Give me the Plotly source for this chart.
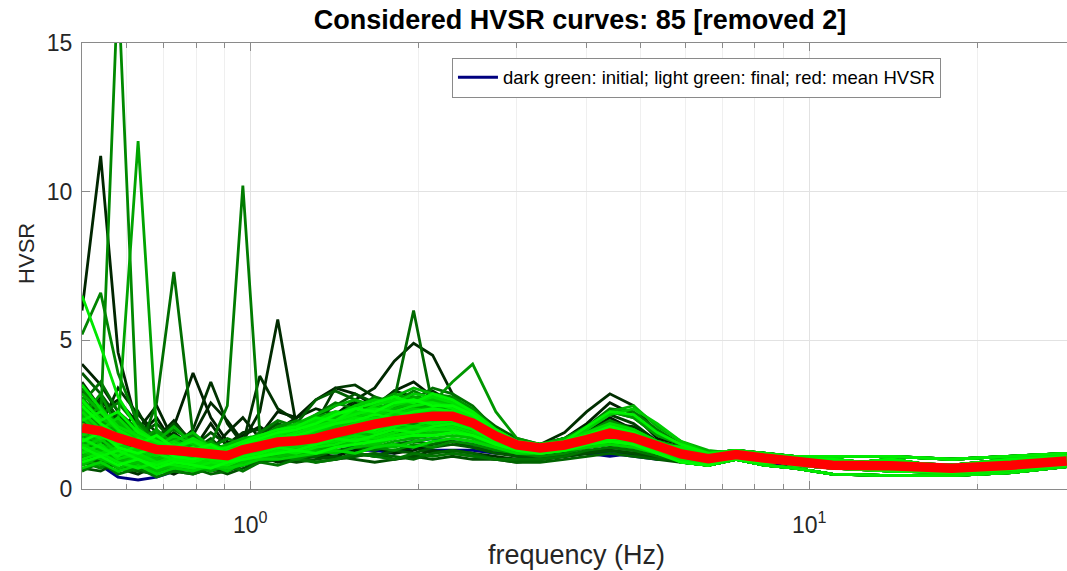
import math
import plotly.graph_objects as go

# Frequency samples (Hz), shared by every HVSR curve
freq_hz = [0.50, 0.54, 0.58, 0.63, 0.68, 0.73, 0.79, 0.85, 0.91, 0.97,
           1.04, 1.12, 1.21, 1.31, 1.42, 1.54, 1.67, 1.81, 1.96, 2.12,
           2.3, 2.5, 2.75, 3.0, 3.3, 3.65, 4.0, 4.4, 4.85, 5.35,
           5.9, 6.6, 7.4, 8.3, 9.4, 11.0, 14.0, 18.0, 23.0, 28.9]

# Mean HVSR curve
mean_hvsr = [2.05, 1.95, 1.72, 1.5, 1.33, 1.3, 1.25, 1.2, 1.12, 1.32,
             1.48, 1.58, 1.62, 1.7, 1.88, 2.05, 2.18, 2.3, 2.38, 2.45,
             2.45, 2.22, 1.78, 1.48, 1.38, 1.48, 1.66, 1.88, 1.72, 1.42,
             1.18, 1.02, 1.16, 1.04, 0.9, 0.8, 0.78, 0.7, 0.8, 0.94]

# The two windows that were removed
removed_curves = [
    [1.0,0.8,0.4,0.3,0.4,0.6,0.8,0.7,0.9,1.0, 1.1,1.2,1.1,1.3,1.2,1.3,1.3,1.2,1.4,1.3, 1.3,1.3,1.2,1.2,1.1,1.1,1.2,1.2,1.1,1.0, 1.0,0.9,1.0,0.9,0.8,0.8,0.7,0.7,0.8,0.9],
    [1.3,2.9,1.5,1.0,0.9,1.1,0.9,1.0,1.1,1.2, 1.2,1.4,1.3,1.4,1.5,1.4,1.3,1.5,1.6,1.7, 1.6,1.5,1.3,1.2,1.2,1.2,1.2,1.1,1.2,1.1, 1.0,0.9,1.0,1.0,0.9,0.8,0.8,0.7,0.8,0.9],
]

# The 85 considered windows, from initial (first) to final (last)
hvsr_curves = [
    [2.6,3.1,2.2,1.8,2.4,1.5,1.1,1.6,1.0,1.4, 1.9,2.2,1.6,1.5,1.9,2.4,2.2,2.6,3.0,2.7, 2.3,2.0,1.6,1.3,1.3,1.5,1.9,2.4,2.0,1.5, 1.4,1.2,1.3,1.2,1.1,1.1,1.1,1.0,1.1,1.2],
    [4.2,3.5,2.6,1.9,1.5,2.1,3.9,2.4,1.6,1.2, 1.8,2.6,2.4,3.0,3.4,3.2,2.8,3.3,3.6,3.1, 2.6,2.3,1.9,1.6,1.5,1.7,2.2,2.9,2.5,1.7, 1.5,1.2,1.2,1.1,0.9,0.9,0.9,0.8,0.9,1.1],
    [1.2,0.8,0.6,0.9,0.7,0.5,0.8,0.6,0.7,0.9, 1.0,1.1,1.0,1.2,1.1,1.3,1.4,1.2,1.3,1.5, 1.6,1.4,1.3,1.1,1.0,1.1,1.3,1.3,1.2,1.1, 0.9,0.8,1.1,1.0,0.8,0.7,0.6,0.55,0.65,0.8],
    [6.0,11.2,4.6,2.0,2.8,1.6,1.3,2.2,1.4,1.8, 2.1,1.7,1.9,2.3,2.5,2.2,2.7,2.9,2.6,2.4, 2.2,2.0,1.7,1.5,1.4,1.6,1.8,2.0,1.8,1.4, 1.3,1.1,1.1,1.0,1.0,1.0,0.8,0.8,1.0,1.1],
    [3.3,2.6,3.0,2.2,1.7,2.3,1.5,1.3,1.9,2.4, 1.7,2.0,2.4,2.7,2.5,3.0,3.4,4.3,4.9,4.5, 3.2,2.5,1.9,1.6,1.5,1.7,2.1,2.3,2.0,1.6, 1.4,1.2,1.3,1.2,1.1,1.1,1.1,1.0,1.1,1.2],
    [2.2,1.9,1.4,1.7,1.2,1.0,1.8,2.9,2.3,1.6, 2.6,5.7,2.1,1.8,2.2,2.6,2.4,2.2,2.8,2.5, 2.4,2.0,1.7,1.5,1.4,1.5,1.8,2.1,1.9,1.5, 1.2,1.0,1.2,1.0,0.9,0.8,0.8,0.7,0.8,0.9],
    [1.6,1.3,1.1,1.5,1.0,0.9,1.2,1.0,1.4,1.2, 1.3,1.6,1.5,1.4,1.7,2.0,1.9,2.1,2.3,2.2, 2.3,2.2,1.9,1.6,1.5,1.9,2.6,3.2,2.8,1.9, 1.5,1.2,1.2,1.1,0.9,0.9,0.9,0.8,0.9,1.1],
    [0.9,1.1,0.7,0.5,0.8,0.6,0.5,0.7,0.6,0.8, 1.1,0.9,1.0,1.1,1.0,1.2,1.1,1.3,1.4,1.2, 1.3,1.2,1.1,1.0,1.0,1.1,1.2,1.4,1.3,1.1, 1.0,0.8,1.0,0.8,0.7,0.5,0.45,0.45,0.55,0.75],
    [2.8,2.1,3.4,2.5,1.9,1.4,2.0,3.6,2.2,1.5, 3.8,2.7,2.3,2.0,2.4,2.9,2.6,2.5,2.8,3.3, 2.9,2.4,1.9,1.6,1.4,1.6,1.9,2.2,2.1,1.6, 1.3,1.1,1.1,1.0,1.0,1.0,0.8,0.8,1.0,1.1],
    [1.7,2.4,1.6,1.2,1.4,1.1,0.9,1.3,1.0,1.1, 1.4,1.3,1.6,1.9,2.1,1.8,2.2,2.0,2.3,2.6, 2.5,2.1,1.7,1.4,1.3,1.4,1.6,1.8,1.7,1.4, 1.1,0.9,1.3,1.1,0.8,0.8,1.0,0.7,0.8,0.9],
    [3.6,2.7,1.9,2.6,1.5,1.9,1.4,1.1,1.5,1.9, 2.0,1.6,1.8,2.2,3.4,3.5,3.1,2.7,2.5,2.3, 2.6,2.3,1.8,1.5,1.4,1.5,1.7,1.9,1.7,1.4, 1.2,1.0,1.0,0.9,0.9,0.7,0.7,0.6,0.8,1.0],
    [1.1,0.8,1.0,0.7,0.9,1.1,0.7,0.9,0.8,1.0, 1.2,1.1,1.3,1.2,1.0,1.1,1.2,1.0,1.1,1.3, 1.2,1.1,1.0,1.0,1.0,1.1,1.2,1.3,1.2,1.1, 0.9,0.8,1.1,1.0,0.8,0.7,0.6,0.55,0.65,0.8],
    [2.4,3.0,2.3,1.6,1.9,1.3,1.6,1.2,1.1,1.6, 1.7,2.0,1.8,1.6,2.0,2.3,2.7,3.3,3.1,2.8, 2.7,2.5,2.0,1.6,1.4,1.6,2.0,2.5,2.2,1.6, 1.4,1.2,1.3,1.2,1.1,1.1,1.1,1.0,1.1,1.2],
    [1.4,1.9,1.3,1.0,1.2,0.8,1.0,0.9,0.7,1.0, 1.1,1.3,1.2,1.5,1.4,1.7,1.6,1.9,2.0,1.8, 2.0,1.8,1.5,1.3,1.2,1.3,1.5,1.6,1.5,1.3, 1.0,0.8,1.0,0.8,0.7,0.5,0.45,0.45,0.55,0.75],
    [2.0,1.5,1.8,1.3,1.1,1.5,1.2,1.6,1.3,1.2, 1.5,1.8,1.7,2.0,2.3,2.1,2.5,2.4,2.2,2.6, 2.6,2.4,1.9,1.5,1.4,1.5,1.7,2.0,1.8,1.5, 1.1,0.9,1.3,1.1,0.8,0.8,1.0,0.7,0.8,0.9],
    [3.0,2.2,1.7,2.0,1.4,1.2,1.5,1.1,1.3,1.5, 1.4,1.5,1.9,1.7,1.8,2.0,2.3,2.1,2.4,2.3, 2.4,2.1,1.7,1.4,1.4,1.5,1.7,1.9,1.7,1.4, 1.2,1.0,1.2,1.0,0.9,0.8,0.8,0.7,0.8,0.9],
    [1.3,1.0,1.4,1.1,0.8,1.0,0.9,0.7,0.9,1.1, 1.2,1.4,1.3,1.2,1.5,1.6,1.5,1.7,1.9,2.0, 2.1,1.9,1.6,1.3,1.2,1.3,1.4,1.6,1.5,1.3, 1.0,0.8,1.0,0.8,0.7,0.5,0.45,0.45,0.55,0.75],
    [2.7,2.0,2.5,1.8,1.3,1.7,1.4,1.9,1.5,1.3, 1.6,2.1,1.9,1.8,2.2,2.5,2.8,2.6,2.9,3.1, 2.8,2.3,1.8,1.5,1.4,1.6,1.9,2.1,1.9,1.5, 1.3,1.1,1.1,1.0,1.0,1.0,0.8,0.8,1.0,1.1],
    [0.7,0.6,0.9,0.6,0.5,0.8,0.6,0.7,0.5,0.7, 0.9,1.0,0.9,1.0,1.1,1.0,0.9,1.0,1.1,1.0, 1.1,1.0,1.0,0.9,1.0,1.1,1.2,1.3,1.2,1.0, 0.9,0.8,1.1,1.0,0.8,0.7,0.6,0.55,0.65,0.8],
    [2.2,2.9,1.8,1.4,1.7,2.2,1.6,1.2,1.0,1.4, 1.6,1.5,1.7,2.0,1.9,2.2,2.1,2.4,2.6,2.5, 2.3,2.1,1.7,1.5,1.4,1.5,1.7,1.9,1.8,1.4, 1.2,1.0,1.0,0.9,0.9,0.7,0.7,0.6,0.8,1.0],
    [1.8,1.4,1.2,1.6,1.3,1.0,1.3,1.5,1.1,1.3, 1.4,1.7,1.6,1.5,1.8,2.0,2.2,2.5,2.7,2.9, 3.0,2.6,2.0,1.6,1.4,1.5,1.7,1.8,1.7,1.4, 1.1,0.9,1.3,1.1,0.8,0.8,1.0,0.7,0.8,0.9],
    [3.9,3.2,2.4,1.8,2.2,1.6,1.3,1.7,1.2,1.5, 1.8,2.2,2.0,2.4,2.8,3.2,2.9,2.6,2.8,2.7, 2.5,2.2,1.8,1.5,1.4,1.6,1.8,2.0,1.8,1.5, 1.4,1.2,1.3,1.2,1.1,1.1,1.1,1.0,1.1,1.2],
    [1.0,1.3,0.9,0.8,1.0,0.7,0.6,0.8,0.9,1.0, 1.1,1.2,1.0,1.1,1.3,1.2,1.1,1.3,1.2,1.4, 1.5,1.4,1.2,1.1,1.1,1.2,1.4,1.5,1.4,1.2, 1.0,0.8,1.0,0.8,0.7,0.5,0.45,0.45,0.55,0.75],
    [2.5,1.8,2.1,1.5,1.2,1.4,1.0,1.2,1.4,1.7, 1.5,1.3,1.6,1.8,2.1,2.4,2.6,2.3,2.5,2.8, 2.7,2.4,1.9,1.5,1.4,1.5,1.6,1.9,1.7,1.4, 1.2,1.0,1.2,1.0,0.9,0.8,0.8,0.7,0.8,0.9],
    [1.5,2.2,1.6,1.1,0.9,1.2,0.8,1.0,1.2,0.9, 1.2,1.4,1.3,1.6,1.5,1.8,2.0,1.9,2.1,2.2, 2.2,2.0,1.6,1.4,1.3,1.4,1.6,1.7,1.6,1.3, 1.2,1.0,1.0,0.9,0.9,0.7,0.7,0.6,0.8,1.0],
    [3.3,2.4,2.0,1.5,1.8,1.4,1.9,1.3,1.1,1.4, 1.7,1.9,2.2,3.0,3.3,3.0,2.6,2.4,2.7,2.9, 3.0,2.7,2.1,1.7,1.5,1.7,2.1,2.6,2.4,1.8, 1.5,1.2,1.2,1.1,0.9,0.9,0.9,0.8,0.9,1.1],
    [0.8,1.0,0.7,0.6,0.9,0.6,0.7,0.5,0.6,0.8, 0.9,1.0,1.1,0.9,1.0,1.1,1.2,1.1,1.0,1.2, 1.3,1.2,1.0,0.9,0.9,1.0,1.1,1.2,1.1,1.0, 1.0,0.8,1.0,0.8,0.7,0.5,0.45,0.45,0.55,0.75],
    [2.1,1.6,1.3,1.9,1.5,1.1,1.4,1.2,1.0,1.3, 1.5,1.6,1.8,1.7,2.0,2.2,2.4,2.7,2.6,2.4, 2.4,2.2,1.8,1.5,1.4,1.5,1.7,1.9,1.7,1.4, 1.1,0.9,1.3,1.1,0.8,0.8,1.0,0.7,0.8,0.9],
    [1.9,2.5,1.7,1.3,1.6,1.2,1.0,1.4,1.1,1.5, 1.7,1.9,2.1,2.3,2.2,2.6,2.5,3.0,6.0,2.8, 2.5,2.2,1.8,1.5,1.4,1.5,1.8,2.0,1.8,1.5, 1.3,1.1,1.1,1.0,1.0,1.0,0.8,0.8,1.0,1.1],
    [1.2,0.9,1.1,0.8,0.7,0.9,0.7,0.8,0.6,0.9, 1.0,1.1,1.2,1.1,1.3,1.4,1.3,1.5,1.6,1.5, 1.7,1.6,1.4,1.2,1.2,1.3,1.4,1.5,1.4,1.2, 0.9,0.8,1.1,1.0,0.8,0.7,0.6,0.55,0.65,0.8],
    [2.3,1.7,1.5,1.2,2.9,7.3,1.8,1.3,1.0,1.2, 1.4,1.6,1.5,1.7,1.9,2.1,2.0,2.3,2.5,2.4, 2.3,2.1,1.7,1.4,1.3,1.4,1.6,1.8,1.6,1.4, 1.2,1.0,1.0,0.9,0.9,0.7,0.7,0.6,0.8,1.0],
    [2.9,3.6,2.6,2.0,1.5,1.8,1.3,1.6,1.2,1.4, 1.6,1.9,1.7,2.0,2.4,2.6,2.3,2.7,3.0,3.4, 3.2,2.8,2.0,1.6,1.5,1.6,1.8,2.0,1.9,1.5, 1.4,1.2,1.3,1.2,1.1,1.1,1.1,1.0,1.1,1.2],
    [1.4,1.1,1.6,1.2,1.0,0.8,1.1,0.9,1.2,1.0, 1.3,1.2,1.4,1.6,1.5,1.7,1.9,2.1,2.0,2.2, 2.3,2.0,1.6,1.4,1.3,1.4,1.5,1.7,1.6,1.3, 1.1,0.9,1.3,1.1,0.8,0.8,1.0,0.7,0.8,0.9],
    [0.6,0.9,0.5,0.7,0.4,0.6,0.5,0.7,0.8,0.6, 0.9,0.8,1.0,0.9,1.0,1.2,1.1,1.0,1.2,1.1, 1.2,1.1,1.0,1.0,1.0,1.1,1.3,1.4,1.3,1.1, 1.0,0.8,1.0,0.8,0.7,0.5,0.45,0.45,0.55,0.75],
    [2.6,2.0,1.8,2.3,1.6,1.3,1.5,1.2,1.4,1.6, 1.8,2.0,1.9,2.2,2.5,2.4,2.8,2.6,2.7,3.0, 2.9,2.5,1.9,1.5,1.4,1.6,1.9,2.2,2.0,1.6, 1.3,1.1,1.1,1.0,1.0,1.0,0.8,0.8,1.0,1.1],
    [1.7,1.3,1.9,1.4,1.1,1.3,1.0,1.5,2.8,10.2, 1.9,1.4,1.6,1.8,2.0,2.3,2.2,2.4,2.6,2.5, 2.4,2.2,1.8,1.5,1.4,1.5,1.7,1.9,1.7,1.4, 1.2,1.0,1.2,1.0,0.9,0.8,0.8,0.7,0.8,0.9],
    [3.4,2.5,2.9,2.1,1.7,2.0,1.6,1.4,1.7,1.5, 1.9,2.3,2.1,2.5,2.9,2.7,3.1,2.9,3.3,3.0, 2.8,2.4,1.9,1.6,1.5,1.7,2.1,2.7,2.6,2.0, 1.5,1.2,1.2,1.1,0.9,0.9,0.9,0.8,0.9,1.1],
    [1.1,1.4,1.0,0.8,1.1,0.9,0.8,1.0,0.7,0.9, 1.1,1.3,1.2,1.4,1.6,1.5,1.7,1.8,1.7,1.9, 2.0,1.8,1.5,1.3,1.2,1.3,1.5,1.6,1.5,1.3, 0.9,0.8,1.1,1.0,0.8,0.7,0.6,0.55,0.65,0.8],
    [5.2,6.6,3.9,2.2,1.6,1.4,1.8,1.3,1.1,1.4, 1.6,1.8,2.0,1.9,2.2,2.5,2.4,2.7,2.5,2.6, 2.5,2.3,1.8,1.5,1.4,1.5,1.8,2.0,1.8,1.5, 1.1,0.9,1.3,1.1,0.8,0.8,1.0,0.7,0.8,0.9],
    [2.0,1.6,1.4,1.8,1.3,1.1,1.3,1.1,0.9,1.2, 1.4,1.5,1.7,1.6,1.9,2.1,2.3,2.2,2.4,2.7, 2.6,2.3,1.8,1.5,1.4,1.5,1.7,1.9,1.7,1.4, 1.2,1.0,1.0,0.9,0.9,0.7,0.7,0.6,0.8,1.0],
    [1.9,2.3,17.0,1.6,1.3,1.5,1.2,1.0,1.3,1.5, 1.6,1.7,1.9,2.1,2.0,2.3,2.5,2.4,2.6,2.8, 2.6,2.2,1.8,1.5,1.4,1.5,1.7,1.9,1.7,1.4, 1.2,1.0,1.2,1.0,0.9,0.8,0.8,0.7,0.8,0.9],
    [0.9,0.7,1.0,0.8,0.6,0.8,0.6,0.7,0.9,0.8, 1.0,1.1,1.0,1.2,1.3,1.2,1.4,1.3,1.5,1.4, 1.6,1.5,1.3,1.2,1.1,1.2,1.4,1.5,1.4,1.2, 1.0,0.8,1.0,0.8,0.7,0.5,0.45,0.45,0.55,0.75],
    [2.8,2.1,1.7,1.5,1.9,1.4,1.2,1.5,1.3,1.6, 1.7,2.1,2.3,2.1,2.4,2.8,3.0,2.8,2.9,3.2, 3.1,2.7,2.0,1.6,1.5,1.6,1.9,2.3,2.0,1.6, 1.4,1.2,1.3,1.2,1.1,1.1,1.1,1.0,1.1,1.2],
    [1.6,1.2,1.3,1.0,1.2,0.9,1.1,0.8,1.0,1.2, 1.3,1.4,1.5,1.4,1.7,1.9,1.8,2.0,2.2,2.1, 2.2,2.0,1.6,1.4,1.3,1.4,1.6,1.7,1.6,1.3, 1.1,0.9,1.3,1.1,0.8,0.8,1.0,0.7,0.8,0.9],
    [2.4,3.2,2.0,1.7,1.4,1.6,1.3,1.1,1.2,1.4, 1.5,1.8,1.6,1.9,2.3,2.2,2.6,2.9,2.7,2.6, 2.5,2.2,1.8,1.5,1.4,1.5,1.8,2.1,1.9,1.5, 1.3,1.1,1.1,1.0,1.0,1.0,0.8,0.8,1.0,1.1],
    [1.8,1.4,1.6,1.2,1.0,1.3,1.1,0.9,1.1,1.3, 1.5,1.6,1.8,2.0,1.9,2.2,2.4,2.3,2.5,2.9, 3.6,4.2,2.6,1.7,1.5,1.6,1.8,2.0,1.8,1.5, 1.2,1.0,1.2,1.0,0.9,0.8,0.8,0.7,0.8,0.9],
    [1.2,1.5,1.1,0.9,0.7,1.0,0.8,0.9,1.0,0.9, 1.2,1.3,1.4,1.3,1.5,1.7,1.6,1.8,1.9,2.0, 2.1,1.9,1.6,1.3,1.3,1.4,1.6,1.8,1.6,1.3, 0.9,0.8,1.1,1.0,0.8,0.7,0.6,0.55,0.65,0.8],
    [3.1,2.3,1.9,1.6,2.0,1.5,1.3,1.6,1.2,1.5, 1.8,1.9,2.1,2.4,2.6,2.5,2.9,3.2,3.0,2.8, 2.7,2.4,1.9,1.6,1.4,1.6,2.0,2.6,2.4,1.8, 1.5,1.2,1.2,1.1,0.9,0.9,0.9,0.8,0.9,1.1],
    [1.3,1.0,1.2,0.9,1.1,0.8,0.9,1.1,0.8,1.0, 1.2,1.3,1.2,1.5,1.4,1.6,1.8,1.7,1.9,2.1, 2.0,1.8,1.5,1.3,1.2,1.3,1.5,1.6,1.5,1.2, 1.0,0.8,1.0,0.8,0.7,0.5,0.45,0.45,0.55,0.75],
    [2.2,1.7,2.4,1.8,1.4,1.2,1.5,1.3,1.1,1.4, 1.6,1.8,1.7,2.0,2.2,2.4,2.3,2.6,2.8,2.7, 2.6,2.3,1.8,1.5,1.4,1.5,1.7,2.0,1.8,1.4, 1.2,1.0,1.0,0.9,0.9,0.7,0.7,0.6,0.8,1.0],
    [2.0,1.6,2.2,11.7,1.9,1.3,1.1,1.4,1.2,1.3, 1.5,1.7,1.6,1.8,2.1,2.3,2.2,2.5,2.4,2.6, 2.5,2.2,1.8,1.5,1.4,1.5,1.7,1.9,1.7,1.4, 1.1,0.9,1.3,1.1,0.8,0.8,1.0,0.7,0.8,0.9],
    [1.5,1.9,1.3,1.1,1.4,1.0,1.2,0.9,1.0,1.2, 1.3,1.5,1.4,1.6,1.8,2.0,1.9,2.1,2.3,2.4, 2.3,2.1,1.7,1.4,1.3,1.4,1.6,1.8,1.7,1.4, 1.2,1.0,1.2,1.0,0.9,0.8,0.8,0.7,0.8,0.9],
    [2.6,2.0,1.6,2.1,1.5,1.7,1.3,1.2,1.4,1.5, 1.7,1.8,2.0,2.2,2.5,2.7,2.6,2.8,3.1,3.0, 2.9,2.5,1.9,1.6,1.4,1.6,1.9,2.2,2.0,1.6, 1.3,1.1,1.1,1.0,1.0,1.0,0.8,0.8,1.0,1.1],
    [1.0,0.8,1.1,0.9,0.7,0.9,0.8,0.6,0.8,1.0, 1.1,1.2,1.1,1.3,1.4,1.5,1.4,1.6,1.7,1.8, 1.9,1.7,1.5,1.3,1.2,1.3,1.5,1.6,1.5,1.3, 1.0,0.8,1.0,0.8,0.7,0.5,0.45,0.45,0.55,0.75],
    [2.3,2.8,1.9,1.5,1.2,1.6,1.4,1.2,1.0,1.3, 1.5,1.7,1.9,1.8,2.1,2.3,2.5,2.4,2.6,2.8, 2.7,2.4,1.9,1.5,1.4,1.5,1.8,2.0,1.8,1.5, 1.4,1.2,1.3,1.2,1.1,1.1,1.1,1.0,1.1,1.2],
    [1.7,1.3,1.5,1.9,1.3,1.1,1.0,1.2,1.3,1.1, 1.4,1.6,1.5,1.7,2.0,1.9,2.2,2.4,2.3,2.5, 2.5,2.2,1.8,1.5,1.4,1.5,1.7,1.9,1.7,1.4, 1.2,1.0,1.0,0.9,0.9,0.7,0.7,0.6,0.8,1.0],
    [3.2,2.6,2.2,1.8,1.6,2.1,1.5,1.3,1.5,1.7, 1.8,2.0,2.2,2.5,2.8,3.0,2.8,3.1,3.4,3.2, 3.0,2.6,2.0,1.6,1.5,1.7,2.0,2.6,2.8,2.1, 1.6,1.3,1.2,1.1,0.9,0.9,0.9,0.8,0.9,1.1],
    [1.1,1.3,0.9,1.1,0.8,1.0,0.9,0.7,0.9,1.1, 1.2,1.3,1.5,1.4,1.6,1.7,1.9,1.8,2.0,2.1, 2.2,2.0,1.6,1.4,1.3,1.4,1.6,1.7,1.6,1.3, 0.9,0.8,1.1,1.0,0.8,0.7,0.6,0.55,0.65,0.8],
    [2.5,1.9,2.3,1.6,1.8,1.3,1.6,1.4,1.2,1.5, 1.6,1.9,1.8,2.1,2.4,2.6,2.5,2.7,2.9,3.0, 2.8,2.4,1.9,1.6,1.4,1.6,1.8,2.1,1.9,1.5, 1.3,1.1,1.1,1.0,1.0,1.0,0.8,0.8,1.0,1.1],
    [1.9,1.5,1.2,1.4,1.7,1.2,1.0,1.3,1.1,1.2, 1.4,1.5,1.7,1.6,1.8,2.1,2.0,2.3,2.5,2.4, 2.4,2.2,1.8,1.5,1.4,1.5,1.7,1.9,1.7,1.4, 1.1,0.9,1.3,1.1,0.8,0.8,1.0,0.7,0.8,0.9],
    [0.8,1.1,0.7,0.9,0.6,0.8,0.7,0.9,0.7,0.9, 1.0,1.1,1.2,1.3,1.2,1.4,1.5,1.4,1.6,1.7, 1.8,1.7,1.4,1.3,1.2,1.3,1.4,1.6,1.5,1.2, 1.0,0.8,1.0,0.8,0.7,0.5,0.45,0.45,0.55,0.75],
    [2.7,2.2,1.8,1.5,1.3,1.6,1.9,1.4,1.2,1.4, 1.7,1.8,2.0,2.3,2.2,2.5,2.7,2.9,2.8,3.0, 2.8,2.5,1.9,1.6,1.4,1.6,1.9,2.1,1.9,1.5, 1.4,1.2,1.3,1.2,1.1,1.1,1.1,1.0,1.1,1.2],
    [1.6,2.0,1.4,1.2,1.0,1.2,1.1,0.9,1.1,1.3, 1.4,1.6,1.5,1.7,1.9,2.0,2.2,2.1,2.3,2.5, 2.4,2.1,1.7,1.4,1.3,1.5,1.7,1.8,1.7,1.4, 1.2,1.0,1.2,1.0,0.9,0.8,0.8,0.7,0.8,0.9],
    [2.1,1.6,1.9,1.3,1.5,1.1,1.3,1.0,1.2,1.4, 1.6,1.7,1.6,1.9,2.1,2.3,2.2,2.5,2.6,2.7, 2.6,2.3,1.8,1.5,1.4,1.5,1.7,1.9,1.8,1.4, 1.2,1.0,1.0,0.9,0.9,0.7,0.7,0.6,0.8,1.0],
    [1.3,1.0,0.8,1.1,0.9,0.7,0.9,0.8,0.6,0.9, 1.1,1.2,1.3,1.2,1.4,1.6,1.5,1.7,1.8,1.9, 2.0,1.8,1.5,1.3,1.2,1.4,1.5,1.7,1.5,1.3, 0.9,0.8,1.1,1.0,0.8,0.7,0.6,0.55,0.65,0.8],
    [2.9,2.4,2.0,1.7,1.4,1.8,1.5,1.3,1.4,1.6, 1.8,1.9,2.2,2.1,2.5,2.8,3.0,2.9,3.2,3.1, 2.9,2.5,2.0,1.6,1.5,1.6,2.0,2.5,2.7,2.2, 1.6,1.2,1.2,1.1,0.9,0.9,0.9,0.8,0.9,1.1],
    [1.4,1.7,1.2,1.0,1.2,0.9,1.0,1.1,0.9,1.1, 1.3,1.4,1.6,1.5,1.7,1.8,2.0,2.1,2.0,2.2, 2.2,2.0,1.6,1.4,1.3,1.4,1.6,1.8,1.6,1.3, 1.1,0.9,1.3,1.1,0.8,0.8,1.0,0.7,0.8,0.9],
    [2.4,1.8,1.6,2.0,1.5,1.2,1.4,1.2,1.0,1.3, 1.5,1.8,1.7,1.9,2.2,2.4,2.6,2.5,2.7,2.6, 2.6,2.3,1.8,1.5,1.4,1.5,1.7,2.0,1.8,1.4, 1.3,1.1,1.1,1.0,1.0,1.0,0.8,0.8,1.0,1.1],
    [1.8,2.1,1.5,1.3,1.1,1.4,1.2,1.0,1.2,1.4, 1.5,1.6,1.8,1.7,2.0,2.2,2.1,2.4,2.5,2.6, 2.5,2.2,1.8,1.5,1.4,1.5,1.7,1.9,1.7,1.4, 1.2,1.0,1.2,1.0,0.9,0.8,0.8,0.7,0.8,0.9],
    [0.7,0.9,0.6,0.8,0.5,0.7,0.6,0.8,0.7,0.8, 1.0,1.0,1.1,1.2,1.3,1.2,1.4,1.5,1.4,1.6, 1.7,1.6,1.4,1.2,1.2,1.3,1.4,1.5,1.4,1.2, 1.0,0.8,1.0,0.8,0.7,0.5,0.45,0.45,0.55,0.75],
    [2.6,2.0,2.4,1.7,1.4,1.6,1.3,1.5,1.3,1.5, 1.7,1.9,2.1,2.0,2.3,2.6,2.5,2.8,3.0,2.9, 2.8,2.4,1.9,1.6,1.4,1.6,1.8,2.1,1.9,1.5, 1.4,1.2,1.3,1.2,1.1,1.1,1.1,1.0,1.1,1.2],
    [1.5,1.2,1.4,1.1,0.9,1.1,1.0,0.8,1.0,1.2, 1.3,1.5,1.4,1.6,1.8,1.9,2.0,2.2,2.1,2.3, 2.3,2.1,1.7,1.4,1.3,1.4,1.6,1.8,1.6,1.3, 1.2,1.0,1.0,0.9,0.9,0.7,0.7,0.6,0.8,1.0],
    [3.5,2.7,2.1,1.8,1.5,1.3,1.7,1.4,1.2,1.5, 1.7,1.8,2.0,2.3,2.6,2.5,2.8,3.0,2.9,3.1, 2.9,2.5,1.9,1.6,1.5,1.6,1.9,2.2,2.0,1.6, 1.3,1.1,1.1,1.0,1.0,1.0,0.8,0.8,1.0,1.1],
    [1.2,1.5,1.0,1.2,0.9,1.0,0.8,1.0,0.9,1.1, 1.2,1.4,1.3,1.5,1.6,1.8,1.7,1.9,2.1,2.0, 2.1,1.9,1.6,1.4,1.3,1.4,1.5,1.7,1.6,1.3, 0.9,0.8,1.1,1.0,0.8,0.7,0.6,0.55,0.65,0.8],
    [2.0,1.7,1.9,1.4,1.2,1.5,1.1,1.3,1.1,1.3, 1.5,1.7,1.6,1.8,2.0,2.2,2.4,2.3,2.5,2.6, 2.5,2.3,1.8,1.5,1.4,1.5,1.7,1.9,1.7,1.4, 1.1,0.9,1.3,1.1,0.8,0.8,1.0,0.7,0.8,0.9],
    [6.5,4.8,3.1,2.0,1.6,1.4,1.7,1.3,1.2,1.4, 1.6,1.8,1.7,2.0,2.2,2.4,2.3,2.6,2.5,2.7, 2.6,2.3,1.8,1.5,1.4,1.5,1.8,2.0,1.8,1.5, 1.2,1.0,1.2,1.0,0.9,0.8,0.8,0.7,0.8,0.9],
    [1.0,1.2,0.9,0.7,0.9,0.8,0.7,0.9,0.8,1.0, 1.1,1.3,1.2,1.4,1.5,1.7,1.6,1.8,1.9,2.0, 2.0,1.8,1.5,1.3,1.2,1.3,1.5,1.6,1.5,1.3, 1.0,0.8,1.0,0.8,0.7,0.5,0.45,0.45,0.55,0.75],
    [2.3,2.6,2.0,1.6,1.3,1.5,1.2,1.4,1.2,1.4, 1.6,1.7,1.9,2.1,2.3,2.5,2.7,2.6,2.8,2.9, 2.7,2.4,1.9,1.5,1.4,1.6,1.8,2.0,1.8,1.5, 1.4,1.2,1.3,1.2,1.1,1.1,1.1,1.0,1.1,1.2],
    [1.7,1.4,1.1,1.5,1.2,1.0,1.2,1.0,0.9,1.2, 1.4,1.5,1.6,1.5,1.8,2.0,1.9,2.1,2.3,2.2, 2.3,2.1,1.7,1.4,1.3,1.4,1.6,1.8,1.6,1.4, 1.2,1.0,1.0,0.9,0.9,0.7,0.7,0.6,0.8,1.0],
    [3.0,2.3,2.6,1.9,1.6,1.4,1.6,1.3,1.4,1.6, 1.8,2.0,2.1,2.4,2.3,2.7,2.9,3.1,2.9,3.2, 3.0,2.6,2.0,1.6,1.5,1.6,2.1,2.6,2.5,1.9, 1.5,1.2,1.2,1.1,0.9,0.9,0.9,0.8,0.9,1.1],
    [1.4,1.1,1.3,1.0,0.8,1.0,0.9,1.1,0.9,1.1, 1.2,1.4,1.3,1.5,1.7,1.6,1.8,2.0,1.9,2.1, 2.2,2.0,1.6,1.4,1.3,1.4,1.6,1.7,1.6,1.3, 1.1,0.9,1.3,1.1,0.8,0.8,1.0,0.7,0.8,0.9],
    [2.2,1.8,1.5,1.7,1.4,1.2,1.4,1.1,1.3,1.4, 1.6,1.7,1.8,2.0,2.2,2.3,2.5,2.4,2.6,2.7, 2.6,2.3,1.8,1.5,1.4,1.5,1.7,1.9,1.8,1.4, 1.3,1.1,1.1,1.0,1.0,1.0,0.8,0.8,1.0,1.1],
    [0.9,1.1,0.8,1.0,0.7,0.9,0.8,0.7,0.9,1.0, 1.1,1.2,1.3,1.2,1.4,1.5,1.6,1.7,1.8,1.8, 1.9,1.8,1.5,1.3,1.2,1.3,1.5,1.6,1.5,1.2, 0.9,0.8,1.1,1.0,0.8,0.7,0.6,0.55,0.65,0.8],
    [2.8,2.2,1.8,1.5,1.8,1.4,1.3,1.5,1.2,1.5, 1.7,1.9,2.0,2.2,2.5,2.7,2.6,2.9,3.0,2.8, 2.8,2.5,1.9,1.6,1.4,1.6,1.8,2.1,1.9,1.5, 1.2,1.0,1.2,1.0,0.9,0.8,0.8,0.7,0.8,0.9],
    [1.6,1.9,1.4,1.2,1.4,1.1,1.0,1.2,1.0,1.3, 1.4,1.6,1.5,1.7,1.9,2.1,2.0,2.3,2.4,2.5, 2.4,2.2,1.7,1.5,1.4,1.5,1.7,1.9,1.7,1.4, 1.2,1.0,1.0,0.9,0.9,0.7,0.7,0.6,0.8,1.0],
]

title_text = "Considered HVSR curves: 85 [removed 2]"
legend_text = "dark green: initial; light green: final; red: mean HVSR"

FONT = "Liberation Sans, Arial, Helvetica, sans-serif"
AXIS_GRAY = "#8a8a8a"
TEXT_GRAY = "#262626"

fig = go.Figure()

# removed windows (navy) go underneath; the first one carries the legend entry
for i, row in enumerate(removed_curves):
    fig.add_trace(go.Scatter(
        x=freq_hz, y=row, mode="lines",
        line=dict(color="#00007f", width=3),
        name=legend_text, showlegend=(i == 0), hoverinfo="skip"))

# considered windows shaded from dark green (initial) to light green (final)
n = len(hvsr_curves)
for k, row in enumerate(hvsr_curves):
    g = int(round(30 + 225 * k / (n - 1)))
    fig.add_trace(go.Scatter(
        x=freq_hz, y=row, mode="lines",
        line=dict(color=f"rgb(0,{g},0)", width=2.8),
        showlegend=False, hoverinfo="skip"))

# mean curve on top
fig.add_trace(go.Scatter(
    x=freq_hz, y=mean_hvsr, mode="lines",
    line=dict(color="rgb(255,0,0)", width=9.5),
    showlegend=False, hoverinfo="skip"))

minor_vals = [0.6, 0.7, 0.8, 0.9, 2, 3, 4, 5, 6, 7, 8, 9, 20]

fig.update_layout(
    width=1067, height=571,
    margin=dict(l=82, r=0, t=43, b=82),
    paper_bgcolor="white", plot_bgcolor="white",
    font=dict(family=FONT, color=TEXT_GRAY),
    title=dict(text=f"<b>{title_text}</b>", x=0.5056, xref="paper",
               xanchor="center", y=0.965, yanchor="middle",
               font=dict(size=27, color="black", family=FONT)),
    legend=dict(x=0.3756, y=0.967, xanchor="left", yanchor="top",
                bgcolor="white", bordercolor="#8a8a8a", borderwidth=1,
                font=dict(size=18.5, color="black", family=FONT),
                itemwidth=40, tracegroupgap=0),
    showlegend=True,
)

fig.update_xaxes(
    type="log",
    range=[math.log10(0.5), math.log10(28.93)],
    tickmode="array", tickvals=[1, 10],
    ticktext=["10<sup>0</sup>", "10<sup>1</sup>"],
    ticks="inside", ticklen=8, tickcolor=AXIS_GRAY, tickwidth=1,
    showline=True, linecolor=AXIS_GRAY, linewidth=1, mirror="ticks",
    showgrid=True, gridcolor="#e2e2e2", gridwidth=1,
    zeroline=False,
    tickfont=dict(size=23, color=TEXT_GRAY, family=FONT),
    ticklabelstandoff=15,
    minor=dict(tickmode="array", tickvals=minor_vals, ticks="inside",
               ticklen=5, tickcolor=AXIS_GRAY, showgrid=True,
               gridcolor="#efefef", gridwidth=1),
)

fig.update_yaxes(
    range=[0, 15],
    tickmode="array", tickvals=[0, 5, 10, 15],
    ticks="inside", ticklen=8, tickcolor=AXIS_GRAY, tickwidth=1,
    showline=True, linecolor=AXIS_GRAY, linewidth=1, mirror=False,
    showgrid=True, gridcolor="#e2e2e2", gridwidth=1,
    zeroline=False,
    tickfont=dict(size=23, color=TEXT_GRAY, family=FONT),
    ticklabelstandoff=4,
)

# axis titles
fig.add_annotation(text="frequency (Hz)", xref="paper", yref="paper",
                   x=0.5025, y=-0.148, xanchor="center", yanchor="middle",
                   showarrow=False, font=dict(size=27, color=TEXT_GRAY, family=FONT))
fig.add_annotation(text="HVSR", xref="paper", yref="paper",
                   x=-0.057, y=0.529, xanchor="center", yanchor="middle",
                   textangle=-90, showarrow=False,
                   font=dict(size=22, color=TEXT_GRAY, family=FONT))

fig.write_html("out.html")
